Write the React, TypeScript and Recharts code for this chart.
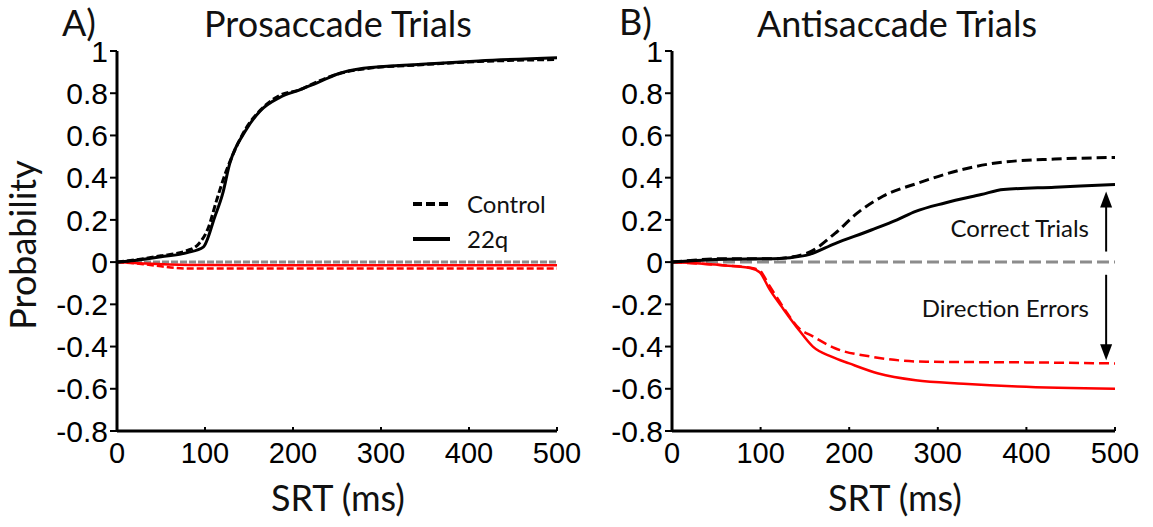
import { LineChart, Line, XAxis, YAxis, ReferenceLine } from "recharts";

// [SRT (ms), cumulative probability]; direction errors are plotted as negative values
const proControlCorrect = [
  [0, 0], [20, 0.01], [50, 0.03], [80, 0.055], [93, 0.087], [104, 0.165], [113, 0.29], [124, 0.43],
  [135, 0.54], [146, 0.63], [163, 0.72], [185, 0.79], [207, 0.815], [228, 0.855], [250, 0.89],
  [280, 0.915], [346, 0.935], [411, 0.95], [500, 0.96],
];
const pro22qCorrect = [
  [0, 0], [20, 0.008], [50, 0.025], [80, 0.045], [98, 0.071], [111, 0.213], [120, 0.323], [128, 0.465],
  [146, 0.622], [163, 0.717], [185, 0.78], [207, 0.815], [228, 0.85], [250, 0.89],
  [280, 0.918], [346, 0.937], [411, 0.953], [500, 0.968],
];
const proControlErrors = [
  [0, 0], [30, -0.01], [50, -0.02], [65, -0.027], [80, -0.03], [200, -0.03], [500, -0.03],
];
const pro22qErrors = [
  [0, 0], [30, -0.006], [60, -0.011], [100, -0.014], [300, -0.015], [500, -0.015],
];

const antiControlCorrect = [
  [0, 0], [60, 0.016], [114, 0.016], [151, 0.04], [184, 0.136], [209, 0.232], [238, 0.312],
  [279, 0.376], [329, 0.44], [370, 0.472], [432, 0.488], [500, 0.496],
];
const anti22qCorrect = [
  [0, 0], [60, 0.014], [114, 0.016], [151, 0.032], [184, 0.088], [225, 0.152], [254, 0.2],
  [275, 0.24], [308, 0.28], [349, 0.32], [374, 0.344], [432, 0.355], [500, 0.368],
];
const antiControlErrors = [
  [0, 0], [60, -0.016], [89, -0.027], [99, -0.04], [110, -0.112], [126, -0.216], [143, -0.312],
  [159, -0.352], [184, -0.408], [225, -0.448], [287, -0.472], [400, -0.475], [500, -0.48],
];
const anti22qErrors = [
  [0, 0], [60, -0.016], [89, -0.029], [99, -0.048], [110, -0.128], [126, -0.224], [143, -0.32],
  [159, -0.4], [180, -0.448], [200, -0.48], [233, -0.528], [275, -0.56], [329, -0.576],
  [390, -0.589], [500, -0.6],
];

const yTicks = [-0.8, -0.6, -0.4, -0.2, 0, 0.2, 0.4, 0.6, 0.8, 1];
const xTicks = [0, 100, 200, 300, 400, 500];
const legendItems = ["Control", "22q"];

const ARIAL = "'Liberation Sans', Arial, sans-serif";
const SANS = "Lato, 'Open Sans', sans-serif";
const RED = "#ff0000";
const GRAY = "#8c8c8c";

const toPoints = (rows: number[][]) => rows.map(([x, y]) => ({ x, y }));

function XTick({ x, y, payload }: any) {
  return (
    <g>
      <line x1={x} x2={x} y1={y} y2={y - 4} stroke="#000" strokeWidth={2} />
      <text x={x} y={y + 32} textAnchor="middle" fontSize={29} fontFamily={ARIAL} fill="#000">
        {payload.value}
      </text>
    </g>
  );
}

function arrowShape(props: any) {
  const { x1, y1, x2, y2 } = props;
  const dir = y2 < y1 ? -1 : 1;
  return (
    <g>
      <line x1={x1} y1={y1} x2={x2} y2={y2 - dir * 12} stroke="#000" strokeWidth={2} />
      <polygon points={`${x2},${y2} ${x2 - 6},${y2 - dir * 16} ${x2 + 6},${y2 - dir * 16}`} fill="#000" />
    </g>
  );
}

interface PanelProps {
  left: number;
  width: number;
  margin: { top: number; right: number; bottom: number; left: number };
  controlCorrect: number[][];
  q22Correct: number[][];
  controlErrors: number[][];
  q22Errors: number[][];
  dash: string;
  zeroDash: string;
  children?: any;
}

function Panel(p: PanelProps) {
  return (
    <div style={{ position: "absolute", left: p.left, top: 0 }}>
      <LineChart width={p.width} height={527} margin={p.margin}>
        <XAxis
          type="number"
          dataKey="x"
          domain={[0, 500]}
          ticks={xTicks}
          allowDataOverflow
          axisLine={{ stroke: "#000", strokeWidth: 3 }}
          tickLine={false}
          tickSize={0}
          tickMargin={0}
          tick={<XTick />}
          height={60}
        />
        <YAxis
          type="number"
          dataKey="y"
          domain={[-0.8, 1]}
          ticks={yTicks}
          allowDataOverflow
          width={100}
          interval={0}
          axisLine={{ stroke: "#000", strokeWidth: 3 }}
          tickLine={{ stroke: "#000", strokeWidth: 2 }}
          tickSize={7}
          tickMargin={2}
          tick={{ fill: "#000", fontSize: 30, fontFamily: ARIAL }}
        />
        <ReferenceLine y={0} stroke={GRAY} strokeWidth={3} strokeDasharray={p.zeroDash} />
        <Line type="monotone" data={toPoints(p.controlErrors)} dataKey="y" stroke={RED} strokeWidth={2.5} strokeDasharray={p.dash} dot={false} isAnimationActive={false} />
        <Line type="monotone" data={toPoints(p.q22Errors)} dataKey="y" stroke={RED} strokeWidth={2.5} dot={false} isAnimationActive={false} />
        <Line type="monotone" data={toPoints(p.controlCorrect)} dataKey="y" stroke="#000" strokeWidth={3} strokeDasharray={p.dash} dot={false} isAnimationActive={false} />
        <Line type="monotone" data={toPoints(p.q22Correct)} dataKey="y" stroke="#000" strokeWidth={3} dot={false} isAnimationActive={false} />
        {p.children}
      </LineChart>
    </div>
  );
}

export default function App() {
  return (
    <div style={{ position: "absolute", left: 0, top: 0, width: 1153, height: 527, background: "#fff", overflow: "hidden" }}>
      <Panel
        left={0}
        width={600}
        margin={{ top: 51, right: 43, bottom: 36, left: 17 }}
        controlCorrect={proControlCorrect}
        q22Correct={pro22qCorrect}
        controlErrors={proControlErrors}
        q22Errors={pro22qErrors}
        dash="7 3"
        zeroDash="7 2"
      />
      <Panel
        left={560}
        width={593}
        margin={{ top: 51, right: 38, bottom: 36, left: 12 }}
        controlCorrect={antiControlCorrect}
        q22Correct={anti22qCorrect}
        controlErrors={antiControlErrors}
        q22Errors={anti22qErrors}
        dash="10 5"
        zeroDash="12 5"
      >
        <ReferenceLine segment={[{ x: 490, y: 0.05 }, { x: 490, y: 0.335 }]} shape={arrowShape} />
        <ReferenceLine segment={[{ x: 490, y: -0.06 }, { x: 490, y: -0.465 }]} shape={arrowShape} />
      </Panel>
      <svg width={1153} height={527} style={{ position: "absolute", left: 0, top: 0, pointerEvents: "none" }}>
        <g fontFamily={SANS} fill="#111">
          <text x={62} y={36} fontSize={36}>A)</text>
          <text x={338} y={37} fontSize={36} textAnchor="middle">Prosaccade Trials</text>
          <text x={619} y={35} fontSize={36}>B)</text>
          <text x={897} y={37} fontSize={36} textAnchor="middle">Antisaccade Trials</text>
          <text transform="translate(36,245) rotate(-90)" fontSize={36} textAnchor="middle">Probability</text>
          <text x={338} y={511} fontSize={36} textAnchor="middle">SRT (ms)</text>
          <text x={895} y={511} fontSize={36} textAnchor="middle">SRT (ms)</text>
          <text x={1089} y={237} fontSize={24} textAnchor="end">Correct Trials</text>
          <text x={1089} y={317} fontSize={24} textAnchor="end">Direction Errors</text>
          {legendItems.map((label, i) => (
            <g key={label}>
              <line
                x1={413}
                x2={450}
                y1={204 + i * 35}
                y2={204 + i * 35}
                stroke="#000"
                strokeWidth={4}
                strokeDasharray={i === 0 ? "9 4" : undefined}
              />
              <text x={467} y={213 + i * 35} fontSize={24}>{label}</text>
            </g>
          ))}
        </g>
      </svg>
    </div>
  );
}
